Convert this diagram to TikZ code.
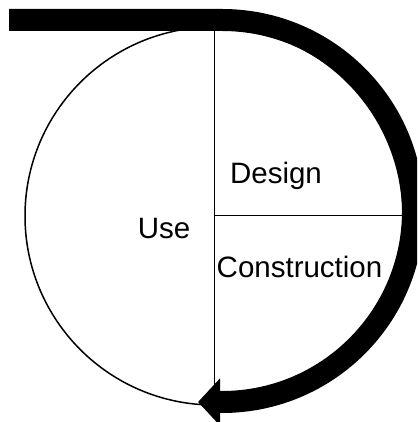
\documentclass[tikz,border=0pt]{standalone}
\usepackage{fontspec}
\setmainfont{Liberation Sans}
\usetikzlibrary{arrows.meta, positioning, calc}
\tikzset{
  cyclering/.style={draw=black, circle, line width=1.5pt,
              minimum size=378pt, inner sep=0pt},
  divider/.style={draw=black, line width=1pt},
  phaselabel/.style={font=\fontsize{29.5}{34}\selectfont, anchor=base,
              inner sep=0pt, text=black},
  bigarr/.style={-{Triangle[length=22pt, width=46pt]}, line width=22pt, color=black},
}

\begin{document}
\begin{tikzpicture}[x=1pt, y=1pt]
  \clip (0,0) rectangle (417,422);
  \node[cyclering] (ring) at (214,206) {};
  \draw[divider] (ring.north) -- (ring.south);
  \draw[divider] (ring.center) -- (ring.east);
  \node[phaselabel] (design) at (276,238)   {Design};
  \node[phaselabel] (use)    at (164,183)   {Use};
  \node[phaselabel] (constr) at (299.5,144) {Construction};
  \coordinate (start) at (9,402);
  \coordinate (bend)  at (222,402);
  \coordinate (stop)  at (198,20);
  \draw[bigarr] (start) -- (bend) arc[start angle=90, end angle=-90, radius=191] -- (stop);
\end{tikzpicture}
\end{document}
